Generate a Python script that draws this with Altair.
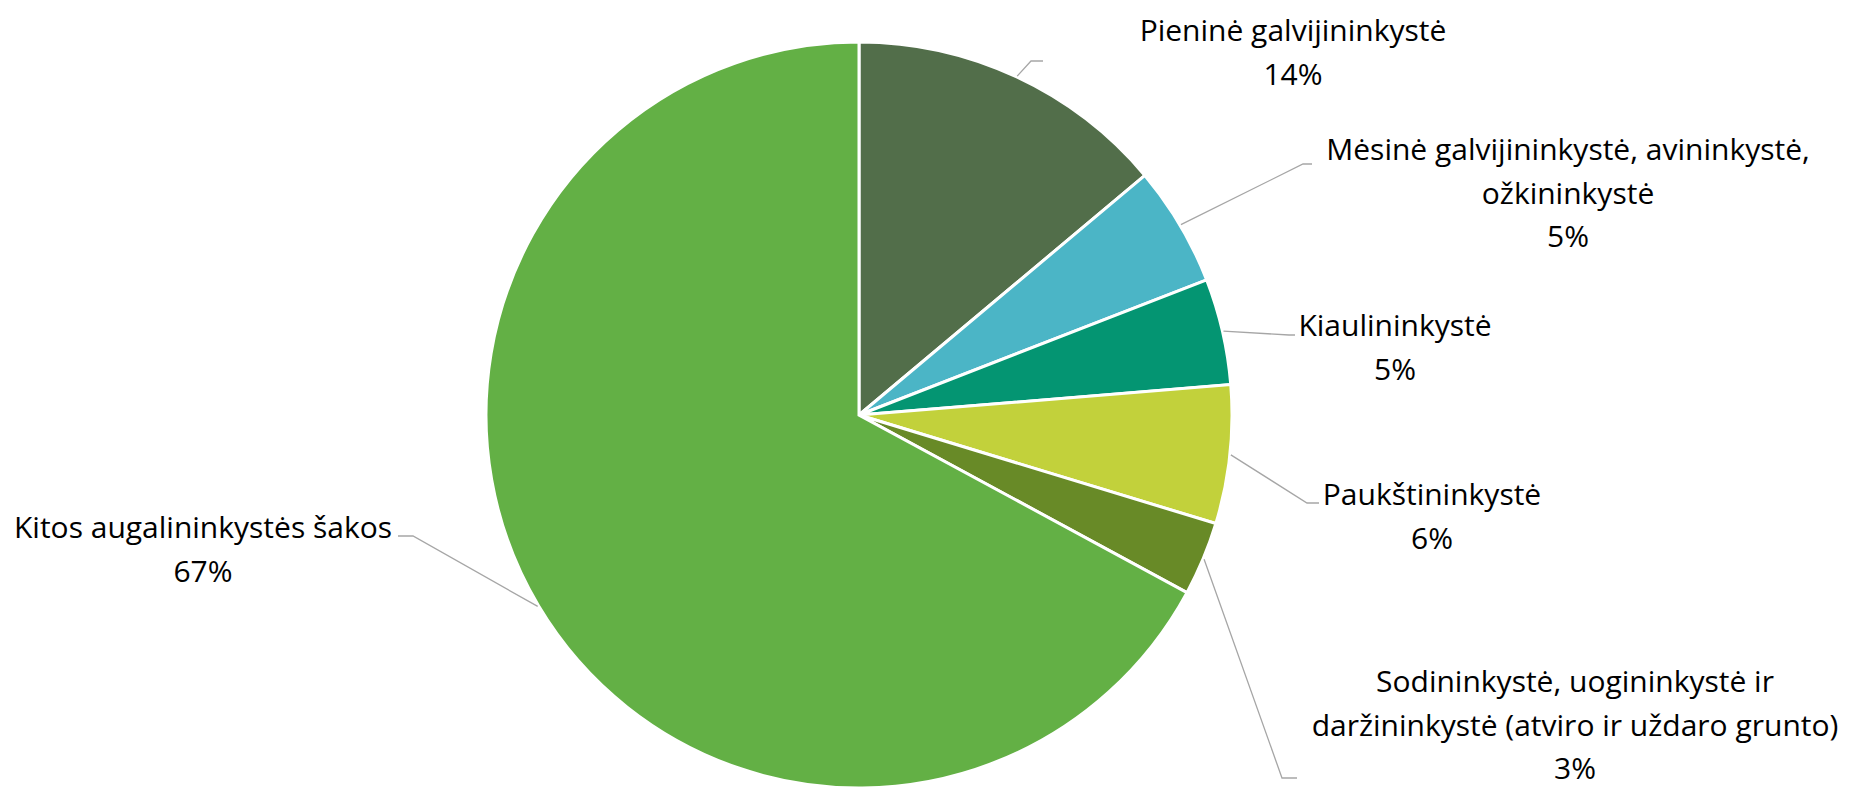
import math
import altair as alt
import pandas as pd

# ---- data ----
categories = [
    "Pieninė galvijininkystė",
    "Mėsinė galvijininkystė, avininkystė, ožkininkystė",
    "Kiaulininkystė",
    "Paukštininkystė",
    "Sodininkystė, uogininkystė ir daržininkystė (atviro ir uždaro grunto)",
    "Kitos augalininkystės šakos",
]
values = [13.9, 5.2, 4.6, 6.0, 3.2, 67.1]
pct_labels = ["14%", "5%", "5%", "6%", "3%", "67%"]
label_lines = [
    ["Pieninė galvijininkystė"],
    ["Mėsinė galvijininkystė, avininkystė,", "ožkininkystė"],
    ["Kiaulininkystė"],
    ["Paukštininkystė"],
    ["Sodininkystė, uogininkystė ir", "daržininkystė (atviro ir uždaro grunto)"],
    ["Kitos augalininkystės šakos"],
]
colors = ["#526E4A", "#4BB5C6", "#049572", "#C2D13B", "#688A27", "#63B045"]

# ---- layout (pixels in plot area) ----
W, H = 1833, 781
CX, CY, R = 851, 407, 373
FONT = "Open Sans"
FS = 30
LH = 43.5
label_cx = [1285, 1560, 1387, 1424, 1567, 195]
label_base = [33, 152, 328, 497, 684, 530]
elbows = [(1023, 53), (1295, 156), (1281, 327), (1299, 495), (1274, 770), (405, 528)]
ends = [(1035, 53), (1304, 156), (1287, 327), (1311, 495), (1289, 770), (390, 528)]

pie_df = pd.DataFrame({"cat": categories, "val": values, "idx": range(len(values))})

# leader lines computed from slice mid-angles
total = sum(values)
rows = []
cum = 0.0
for i, v in enumerate(values):
    mid = (cum + v / 2) / total * 2 * math.pi
    cum += v
    sx = CX + (R + 1) * math.sin(mid)
    sy = CY - (R + 1) * math.cos(mid)
    pts = [(sx, sy), elbows[i], ends[i]]
    for k, (px, py) in enumerate(pts):
        rows.append({"g": i, "k": k, "px": px, "py": py})
lead_df = pd.DataFrame(rows)

trows = []
for i, lines in enumerate(label_lines):
    all_lines = lines + [pct_labels[i]]
    for j, t in enumerate(all_lines):
        trows.append({"t": t, "px": label_cx[i], "py": label_base[i] + j * LH})
text_df = pd.DataFrame(trows)

pie = alt.Chart(pie_df).mark_arc(
    outerRadius=R, stroke="white", strokeWidth=3
).encode(
    theta=alt.Theta("val:Q", stack=True),
    order=alt.Order("idx:Q"),
    color=alt.Color("cat:N", scale=alt.Scale(domain=categories, range=colors), legend=None),
    x=alt.value(CX),
    y=alt.value(CY),
)

leaders = alt.Chart(lead_df).mark_line(color="#A6A6A6", strokeWidth=1.3).encode(
    x=alt.X("px:Q", scale=None),
    y=alt.Y("py:Q", scale=None),
    detail="g:N",
    order="k:Q",
)

texts = alt.Chart(text_df).mark_text(
    font=FONT, fontSize=FS, color="#000000", align="center", baseline="alphabetic"
).encode(
    x=alt.X("px:Q", scale=None),
    y=alt.Y("py:Q", scale=None),
    text="t:N",
)

chart = alt.layer(pie, leaders, texts).properties(
    width=W, height=H, padding=0, autosize=alt.AutoSizeParams(type="none")
).configure_view(stroke=None)

chart.save("out.html", embed_options={"renderer": "svg", "actions": False})
